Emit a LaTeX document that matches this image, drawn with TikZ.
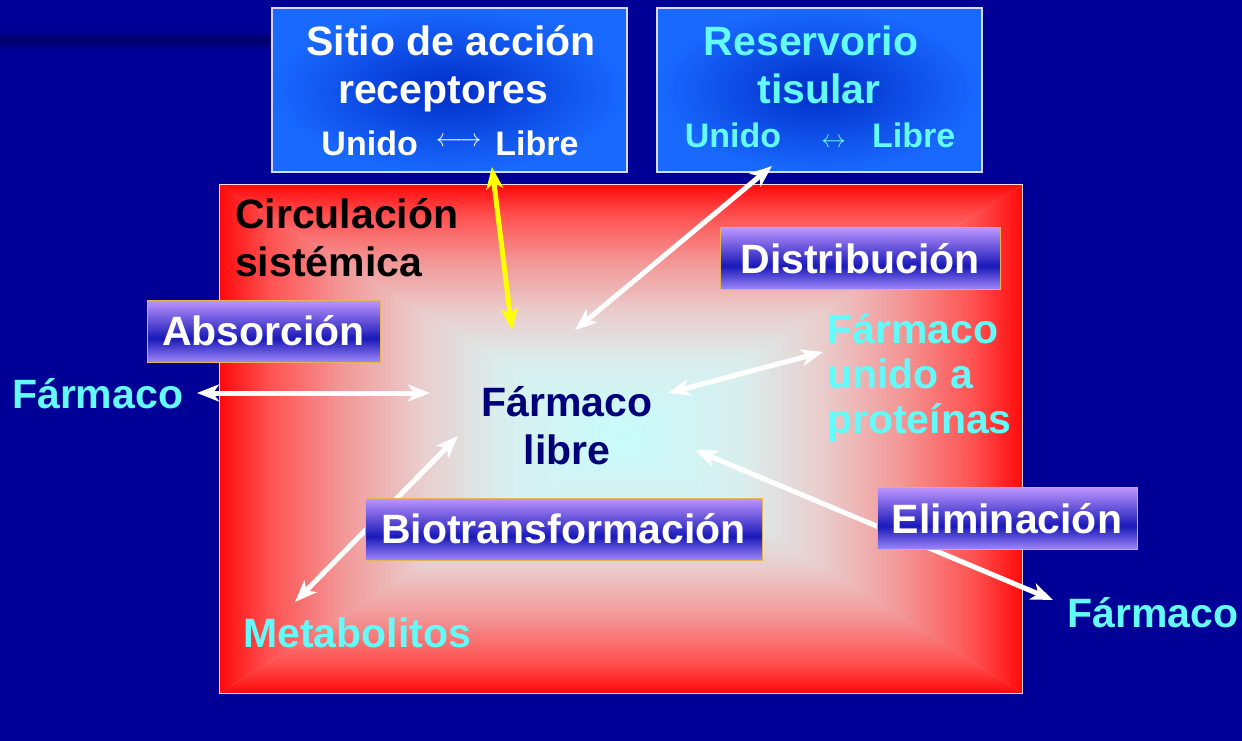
\documentclass[tikz,border=0pt]{standalone}
\usepackage{fontspec}
\setmainfont{Liberation Sans}
\usetikzlibrary{arrows.meta}

\definecolor{bg}{RGB}{0,0,150}
\definecolor{bgdark}{RGB}{0,0,105}
\definecolor{cyantxt}{RGB}{100,250,250}
\definecolor{navytxt}{RGB}{0,0,120}
\definecolor{boxout}{RGB}{25,105,255}
\definecolor{boxin}{RGB}{0,45,200}
\definecolor{labtop}{RGB}{190,150,255}
\definecolor{labmid}{RGB}{25,25,185}
\definecolor{labbot}{RGB}{160,135,250}
\definecolor{labedge}{RGB}{230,180,80}
\definecolor{glowA}{RGB}{200,252,252}
\definecolor{glowB}{RGB}{218,238,238}
\definecolor{glowC}{RGB}{234,205,205}
\definecolor{glowD}{RGB}{243,150,150}
\definecolor{glowE}{RGB}{255,80,80}
\definecolor{redfull}{RGB}{255,10,10}
\definecolor{yellowarrow}{RGB}{255,255,0}

% edge (25bp) red -> centre (75bp) pale cyan
\pgfdeclareverticalshading{edgefade}{100bp}{color(0bp)=(redfull); color(25bp)=(redfull); color(31bp)=(glowE); color(40bp)=(glowD); color(50bp)=(glowC); color(60bp)=(glowB); color(75bp)=(glowA); color(100bp)=(glowA)}
\pgfdeclareverticalshading{labshade}{100bp}{color(0bp)=(labbot); color(25bp)=(labbot); color(44bp)=(labmid); color(75bp)=(labtop); color(100bp)=(labtop)}

\tikzset{
  bigtxt/.style={font=\fontsize{41}{48}\selectfont\bfseries, inner sep=0pt},
  unidotxt/.style={font=\fontsize{34}{40}\selectfont\bfseries, inner sep=0pt},
  topbox/.style={draw=white!85!blue, line width=1.2pt, shading=radial, inner color=boxin, outer color=boxout, inner sep=0pt},
  labelbox/.style={draw=labedge, line width=1pt, shading=labshade, inner sep=0pt, text=white,
    font=\fontsize{41}{48}\selectfont\bfseries, text height=29.5pt, text depth=0pt, minimum height=62pt},
  dbl/.style={draw=white, line width=5pt,
    {Stealth[length=22pt,width=17pt,inset=6pt]}-{Stealth[length=22pt,width=17pt,inset=6pt]}},
  glowpart/.style={shading=edgefade},
}

\begin{document}
\begin{tikzpicture}[x=1pt,y=-1pt]
\useasboundingbox (0,0) rectangle (1242,741);
\fill[bg] (0,0) rectangle (1242,741);
\shade[top color=bg, bottom color=bg, middle color=bgdark] (0,30) rectangle (275,50);

% systemic circulation area (rectangular gradient from the centre)
\node[fill=glowC, minimum width=802pt, minimum height=508pt, inner sep=0pt] (circ) at (621,439) {};
\shade[glowpart] (circ.south west) -- (circ.south east) -- (circ.center) -- cycle;
\shade[glowpart, shading angle=180] (circ.north west) -- (circ.north east) -- (circ.center) -- cycle;
\shade[glowpart, shading angle=90] (circ.north east) -- (circ.south east) -- (circ.center) -- cycle;
\shade[glowpart, shading angle=270] (circ.north west) -- (circ.south west) -- (circ.center) -- cycle;
\draw[white!85!red, line width=1pt] (circ.north west) rectangle (circ.south east);

% top boxes
\node[topbox, minimum width=355pt, minimum height=164pt] (sitio) at (449.5,90) {};
\node[bigtxt, text=white, anchor=base] (sitio1) at (451,56) {Sitio de acción};
\node[bigtxt, text=white, anchor=base] (sitio2) at (443,104) {receptores};
\node[unidotxt, text=white, anchor=base] (sitio3) at (450,155) {Unido\hspace{18pt}\raisebox{9pt}{\fontsize{24}{24}\selectfont$\longleftrightarrow$}\hspace{14pt}Libre};

\node[topbox, minimum width=325pt, minimum height=164pt] (reserv) at (819.5,90) {};
\node[bigtxt, text=cyantxt, anchor=base] (reserv1) at (811,56) {Reservorio};
\node[bigtxt, text=cyantxt, anchor=base] (reserv2) at (819,104) {tisular};
\node[unidotxt, text=cyantxt, anchor=base] (reserv3) at (820,148) {Unido\hspace{40pt}{\fontsize{24}{24}\selectfont$\leftrightarrow$}\hspace{26pt}Libre};

% arrow end points
\coordinate (aL) at (197,393);
\coordinate (aR) at (430,393);
\coordinate (yT) at (492,167);
\coordinate (yB) at (512,330);
\coordinate (rT) at (772,166);
\coordinate (rB) at (575,330);
\coordinate (pR) at (823,352);
\coordinate (pL) at (668,393);
\coordinate (mT) at (458,436);
\coordinate (mB) at (295,602);
\coordinate (eL) at (695,450);
\coordinate (eR) at (1053,600);

\draw[dbl] (aL) -- (aR);
\draw[dbl, draw=yellowarrow] (yT) -- (yB);
\draw[dbl] (rT) -- (rB);
\draw[dbl] (pL) -- (pR);
\draw[dbl] (mT) -- (mB);
\draw[dbl] (eL) -- (eR);

% process labels
\node[labelbox, minimum width=233pt] (absor) at (263.5,331) {Absorción};
\node[labelbox, minimum width=280pt] (distr) at (860,258.5) {Distribución};
\node[labelbox, minimum width=397pt] (biotr) at (563.5,529) {Biotransformación};
\node[labelbox, minimum width=260pt] (elim) at (1007,518.5) {Eliminación};

% texts
\node[bigtxt, text=black, align=left, anchor=west] (circtxt) at (235,238) {Circulación\\sistémica};
\node[bigtxt, text=navytxt, align=center] (libre) at (567,426) {Fármaco\\libre};
\node[bigtxt, text=cyantxt, anchor=base west] (farmL) at (12,408) {Fármaco};
\node[bigtxt, text=cyantxt, align=left, anchor=west, font=\fontsize{41}{45}\selectfont\bfseries] (prot) at (827,378) {Fármaco\\unido a\\proteínas};
\node[bigtxt, text=cyantxt, anchor=base west] (metab) at (243,647) {Metabolitos};
\node[bigtxt, text=cyantxt, anchor=base west] (farmR) at (1067,627) {Fármaco};
\end{tikzpicture}
\end{document}
